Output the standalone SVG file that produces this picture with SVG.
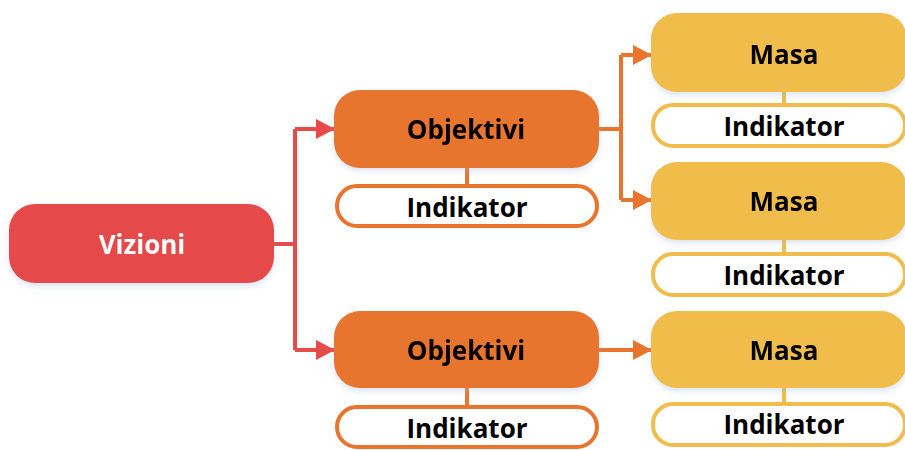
<svg xmlns="http://www.w3.org/2000/svg" width="905" height="450" viewBox="0 0 905 450">
<defs>
<style>
.lbl{font-family:"Open Sans","Liberation Sans",sans-serif;font-weight:bold;font-size:26px;text-anchor:middle;dominant-baseline:central;fill:#000}
.vz{fill:#E64A4A}
.ob{fill:#E8742E}
.ms{fill:#F0BD4C}
.ind-o{fill:#fff;stroke:#E8742E;stroke-width:4}
.ind-y{fill:#fff;stroke:#F0BD4C;stroke-width:4}
.lr{stroke:#E64A4A;stroke-width:4;fill:none}
.lo{stroke:#E8742E;stroke-width:4;fill:none}
.ly{stroke:#F0BD4C;stroke-width:4;fill:none}
</style>
<marker id="ar" markerUnits="userSpaceOnUse" markerWidth="19" markerHeight="20" refX="18" refY="10" orient="auto"><path d="M0,0 L19,10 L0,20 Z" fill="#E64A4A"/></marker>
<marker id="ao" markerUnits="userSpaceOnUse" markerWidth="19" markerHeight="20" refX="18" refY="10" orient="auto"><path d="M0,0 L19,10 L0,20 Z" fill="#E8742E"/></marker>
<filter id="sh" x="-10%" y="-20%" width="120%" height="150%"><feDropShadow dx="0" dy="3" stdDeviation="3" flood-color="#9bb4d6" flood-opacity="0.35"/></filter>
</defs>
<g id="connectors">
<path class="lr" d="M274,244 H295"/>
<path class="lr" d="M295,129 V350"/>
<path class="lr" d="M295,129 H334" marker-end="url(#ar)"/>
<path class="lr" d="M295,350 H334" marker-end="url(#ar)"/>
<path class="lo" d="M599,129 H621"/>
<path class="lo" d="M621,55 V200"/>
<path class="lo" d="M621,55 H651" marker-end="url(#ao)"/>
<path class="lo" d="M621,200 H651" marker-end="url(#ao)"/>
<path class="lo" d="M599,350 H651" marker-end="url(#ao)"/>
<path class="lo" d="M467,168 V184"/>
<path class="lo" d="M467,388 V405"/>
<path class="ly" d="M784,92 V104"/>
<path class="ly" d="M784,240 V253"/>
<path class="ly" d="M784,388 V402"/>
</g>
<g id="vizioni" filter="url(#sh)">
<rect class="vz" x="9" y="204" width="265" height="79" rx="26"/>
<text class="lbl" x="142" y="244" style="fill:#fff">Vizioni</text>
</g>
<g id="objektivi1" filter="url(#sh)">
<rect class="ob" x="334" y="90" width="265" height="78" rx="26"/>
<text class="lbl" x="466" y="129">Objektivi</text>
</g>
<g id="indikator-o1">
<rect class="ind-o" x="337" y="186" width="260" height="40" rx="20"/>
<text class="lbl" x="467" y="207">Indikator</text>
</g>
<g id="objektivi2" filter="url(#sh)">
<rect class="ob" x="334" y="311" width="265" height="77" rx="26"/>
<text class="lbl" x="466" y="350">Objektivi</text>
</g>
<g id="indikator-o2">
<rect class="ind-o" x="337" y="407" width="260" height="40" rx="20"/>
<text class="lbl" x="467" y="428">Indikator</text>
</g>
<g id="masa1" filter="url(#sh)">
<rect class="ms" x="651" y="13" width="256" height="79" rx="26"/>
<text class="lbl" x="784" y="54">Masa</text>
</g>
<g id="indikator-m1">
<rect class="ind-y" x="653" y="105" width="252" height="41" rx="20"/>
<text class="lbl" x="784" y="126">Indikator</text>
</g>
<g id="masa2" filter="url(#sh)">
<rect class="ms" x="651" y="162" width="256" height="78" rx="26"/>
<text class="lbl" x="784" y="201">Masa</text>
</g>
<g id="indikator-m2">
<rect class="ind-y" x="653" y="254" width="252" height="41" rx="20"/>
<text class="lbl" x="784" y="275">Indikator</text>
</g>
<g id="masa3" filter="url(#sh)">
<rect class="ms" x="651" y="311" width="256" height="77" rx="26"/>
<text class="lbl" x="784" y="350">Masa</text>
</g>
<g id="indikator-m3">
<rect class="ind-y" x="653" y="404" width="252" height="41" rx="20"/>
<text class="lbl" x="784" y="424">Indikator</text>
</g>
</svg>
